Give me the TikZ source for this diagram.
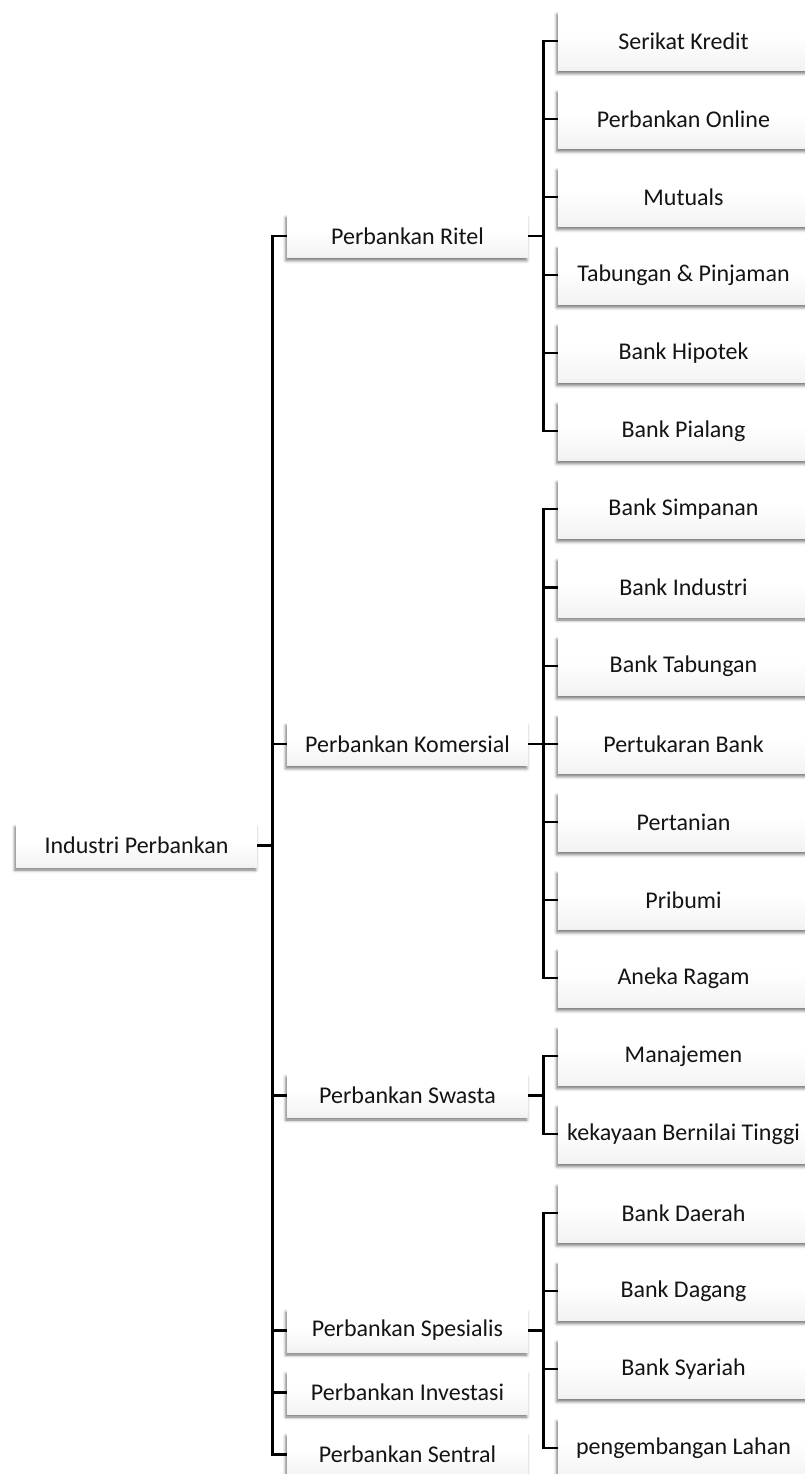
\documentclass[tikz,border=0pt]{standalone}
\usepackage{fontspec}
\setmainfont{Carlito}
\usetikzlibrary{shadows.blur}
\pgfdeclareverticalshading{boxfade}{100bp}{
  color(0bp)=(black!13); color(30bp)=(black!4); color(55bp)=(white); color(100bp)=(white)}
\begin{document}
\begin{tikzpicture}[x=1pt,y=1pt,
  box/.style={minimum height=43pt, minimum width=241pt, inner sep=0pt,
    shading=boxfade,
    blur shadow={shadow xshift=-1.2pt, shadow yshift=-3pt,
      shadow blur radius=3pt, shadow opacity=55},
    font=\fontsize{24}{28}\selectfont, text=black!92},
  leaf/.style={box, minimum height=59pt, minimum width=251pt},
  link/.style={line width=2.6pt, black},
]
\useasboundingbox (0,0) rectangle (804,-1474);

% root
\node[box] (root) at (136.5,-845.5) {Industri Perbankan};

% first level
\node[box] (ritel)  at (407.5,-236)  {Perbankan Ritel};
\node[box] (kom)    at (407.5,-744)  {Perbankan Komersial};
\node[box] (swasta) at (407.5,-1095.5) {Perbankan Swasta};
\node[box] (spes)   at (407.5,-1330.5) {Perbankan Spesialis};
\node[box] (inv)    at (407.5,-1392.5) {Perbankan Investasi};
\node[box] (sent)   at (407.5,-1454.5) {Perbankan Sentral};

% second level
\def\lx{683.5}
\node[leaf] (a1) at (\lx,-41)    {Serikat Kredit};
\node[leaf] (a2) at (\lx,-119)   {Perbankan Online};
\node[leaf] (a3) at (\lx,-197)   {Mutuals};
\node[leaf] (a4) at (\lx,-275)   {Tabungan \& Pinjaman};
\node[leaf] (a5) at (\lx,-353)   {Bank Hipotek};
\node[leaf] (a6) at (\lx,-431)   {Bank Pialang};

\node[leaf] (b1) at (\lx,-509)   {Bank Simpanan};
\node[leaf] (b2) at (\lx,-587.5) {Bank Industri};
\node[leaf] (b3) at (\lx,-666)   {Bank Tabungan};
\node[leaf] (b4) at (\lx,-744)   {Pertukaran Bank};
\node[leaf] (b5) at (\lx,-822)   {Pertanian};
\node[leaf] (b6) at (\lx,-900)   {Pribumi};
\node[leaf] (b7) at (\lx,-978)   {Aneka Ragam};

\node[leaf] (c1) at (\lx,-1056)  {Manajemen};
\node[leaf] (c2) at (\lx,-1134)  {kekayaan Bernilai Tinggi};

\node[leaf] (d1) at (\lx,-1213)  {Bank Daerah};
\node[leaf] (d2) at (\lx,-1291)  {Bank Dagang};
\node[leaf] (d3) at (\lx,-1369)  {Bank Syariah};
\node[leaf] (d4) at (\lx,-1448)  {pengembangan Lahan};

% elbow connectors
\foreach \c in {ritel,kom,swasta,spes,inv,sent}
  \draw[link] (root.east) -- ++(15,0) |- (\c.west);
\foreach \c in {a1,a2,a3,a4,a5,a6}
  \draw[link] (ritel.east) -- ++(15,0) |- (\c.west);
\foreach \c in {b1,b2,b3,b4,b5,b6,b7}
  \draw[link] (kom.east) -- ++(15,0) |- (\c.west);
\foreach \c in {c1,c2}
  \draw[link] (swasta.east) -- ++(15,0) |- (\c.west);
\foreach \c in {d1,d2,d3,d4}
  \draw[link] (spes.east) -- ++(15,0) |- (\c.west);
\end{tikzpicture}
\end{document}
